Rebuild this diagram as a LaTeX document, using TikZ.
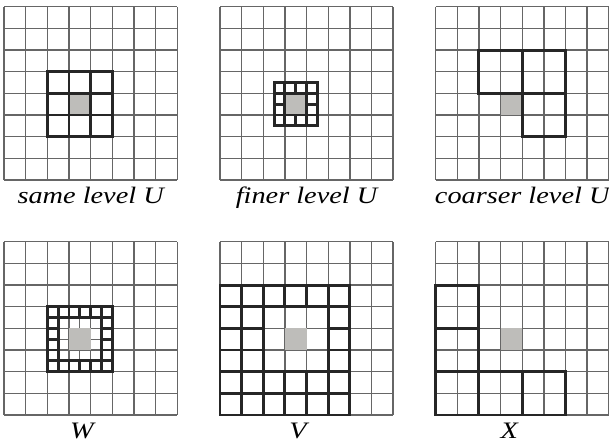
\documentclass[tikz,border=0pt]{standalone}
\usepackage{fontspec}
\setmainfont{Liberation Serif}
\newfontfamily\lblfont[FakeStretch=1.2]{Liberation Serif}
\definecolor{cellgray}{RGB}{190,189,186}

\begin{document}
\begin{tikzpicture}[scale=0.5,
  thingrid/.style = {draw=black!60, line width=0.9pt},
  boldgrid/.style = {draw=black!85, line width=1.9pt},
  target/.style = {fill=cellgray},
  caption/.style = {anchor=base, inner sep=0pt,
    font=\lblfont\itshape\fontsize{15.5}{18}\selectfont}]
  \useasboundingbox (0,0) rectangle (28.13,20.51);

  % same level U
  \begin{scope}[shift={(0.185,12.196)}]
    \draw[thingrid] (0,0) grid (8,8);
    \fill[target] (3,3) rectangle (4,4);
    \foreach \x in {2,3,4}
      \foreach \y in {2,3,4}
        \draw[boldgrid] (\x,\y) rectangle ++(1,1);
    \node[caption] (same) at (4,-1.1) {same level U};
  \end{scope}

  % finer level U
  \begin{scope}[shift={(10.16,12.196)}]
    \draw[thingrid] (0,0) grid (8,8);
    \fill[target] (3,3) rectangle (4,4);
    \foreach \x in {2.5,3,3.5,4}
      \draw[boldgrid] (\x,2.5) rectangle ++(0.5,0.5) (\x,4) rectangle ++(0.5,0.5);
    \foreach \y in {3,3.5}
      \draw[boldgrid] (2.5,\y) rectangle ++(0.5,0.5) (4,\y) rectangle ++(0.5,0.5);
    \node[caption] (finer) at (4,-1.1) {finer level U};
  \end{scope}

  % coarser level U
  \begin{scope}[shift={(20.12,12.196)}]
    \draw[thingrid] (0,0) grid (8,8);
    \fill[target] (3,3) rectangle (4,4);
    \foreach \p in {(2,4),(4,4),(4,2)}
      \draw[boldgrid] \p rectangle ++(2,2);
    \node[caption] (coarser) at (4,-1.1) {coarser level U};
  \end{scope}

  % W
  \begin{scope}[shift={(0.185,1.341)}]
    \draw[thingrid] (0,0) grid (8,8);
    \foreach \t in {2.5,3.5,4.5}
      \draw[thingrid] (\t,2) -- (\t,5) (2,\t) -- (5,\t);
    \fill[target] (3,3) rectangle (4,4);
    \foreach \x in {2,2.5,3,3.5,4,4.5}
      \draw[boldgrid] (\x,2) rectangle ++(0.5,0.5) (\x,4.5) rectangle ++(0.5,0.5);
    \foreach \y in {2.5,3,3.5,4}
      \draw[boldgrid] (2,\y) rectangle ++(0.5,0.5) (4.5,\y) rectangle ++(0.5,0.5);
    \node[caption] (W) at (3.6,-1.1) {W};
  \end{scope}

  % V
  \begin{scope}[shift={(10.16,1.341)}]
    \draw[thingrid] (0,0) grid (8,8);
    \fill[target] (3,3) rectangle (4,4);
    \foreach \x in {0,...,5}
      \foreach \y in {0,1,5}
        \draw[boldgrid] (\x,\y) rectangle ++(1,1);
    \foreach \x in {0,1,5}
      \foreach \y in {2,3,4}
        \draw[boldgrid] (\x,\y) rectangle ++(1,1);
    \node[caption] (V) at (3.6,-1.1) {V};
  \end{scope}

  % X
  \begin{scope}[shift={(20.12,1.341)}]
    \draw[thingrid] (0,0) grid (8,8);
    \fill[target] (3,3) rectangle (4,4);
    \foreach \p in {(0,0),(2,0),(4,0),(0,2),(0,4)}
      \draw[boldgrid] \p rectangle ++(2,2);
    \node[caption] (X) at (3.4,-1.1) {X};
  \end{scope}
\end{tikzpicture}
\end{document}
